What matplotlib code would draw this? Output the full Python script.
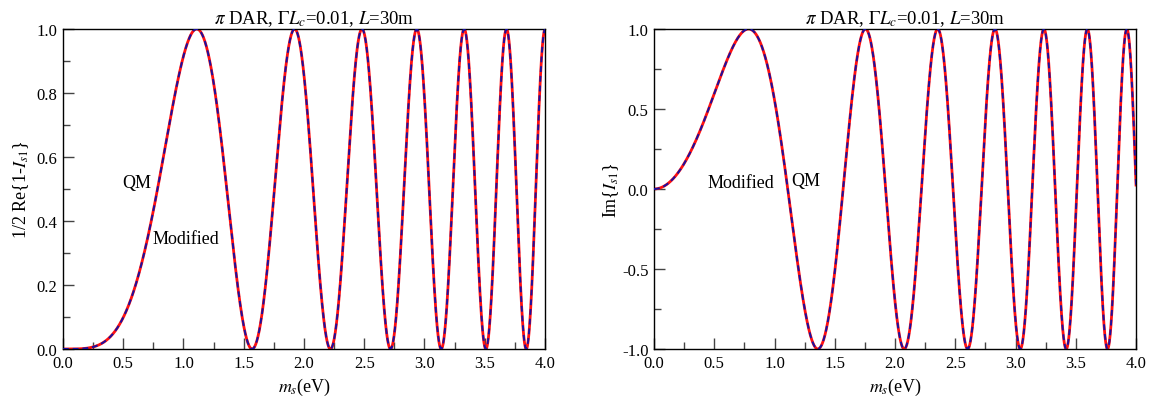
import numpy as np
import matplotlib
matplotlib.use('Agg')
import matplotlib.pyplot as plt
from matplotlib.ticker import MultipleLocator, FixedLocator, FormatStrFormatter

plt.rcParams['font.family'] = ['Liberation Serif', 'DejaVu Serif']
plt.rcParams['mathtext.fontset'] = 'stix'

# ------------------------------
# Physics setup (pi decay-at-rest source)
# ------------------------------
E_NU = 29.8        # neutrino energy, MeV
BASELINE = 30.0    # L, m
GAMMA_LC = 0.01    # Gamma * L_c
M_MIN, M_MAX = 0.0, 4.0

X_TICKS = [0.0, 0.5, 1.0, 1.5, 2.0, 2.5, 3.0, 3.5, 4.0]
LEFT_Y_TICKS = [0.0, 0.2, 0.4, 0.6, 0.8, 1.0]
RIGHT_Y_TICKS = [-1.0, -0.5, 0.0, 0.5, 1.0]

TITLE = r"$\pi$ DAR, $\Gamma L_c$=0.01, $L$=30m"

# ------------------------------
# Overlap integrals
# ------------------------------
m = np.linspace(M_MIN, M_MAX, 4000)
phase = 2 * 1.267 * m**2 * BASELINE / E_NU
I_qm = np.exp(1j * phase)
# modified version carries a tiny coherence damping from Gamma*L_c
I_mod = np.exp(1j * phase) * np.exp(-GAMMA_LC**2 * m**2)

fig = plt.figure(figsize=(11.51, 4.02), dpi=100)
ax1 = fig.add_axes([0.0547, 0.1294, 0.4188, 0.796])
ax2 = fig.add_axes([0.5682, 0.1294, 0.4188, 0.796])


def style_axis(ax, y_ticks, y_minor):
    ax.set_xlim(M_MIN, M_MAX)
    ax.xaxis.set_major_locator(FixedLocator(X_TICKS))
    ax.xaxis.set_minor_locator(MultipleLocator(0.25))
    ax.yaxis.set_major_locator(FixedLocator(y_ticks))
    ax.yaxis.set_minor_locator(MultipleLocator(y_minor))
    ax.xaxis.set_major_formatter(FormatStrFormatter('%.1f'))
    ax.yaxis.set_major_formatter(FormatStrFormatter('%.1f'))
    ax.tick_params(which='both', direction='in', top=False, right=False,
                   labelsize=12, color='#444444', pad=4)
    ax.tick_params(which='major', length=8, width=1)
    ax.tick_params(which='minor', length=5, width=1)
    for s in ax.spines.values():
        s.set_linewidth(1.0)
    ax.set_xlabel(r"$m_s$(eV)", fontsize=13, labelpad=4)
    ax.set_title(TITLE, fontsize=13.5, pad=4, loc='center', x=0.52)


# left panel: 1/2 Re{1 - I}
y_qm = 0.5 * np.real(1 - I_qm)
y_mod = 0.5 * np.real(1 - I_mod)
ax1.plot(m, y_qm, color='#ff1010', lw=2.0, zorder=2)
ax1.plot(m, y_mod, color='#1a10a0', lw=1.4, ls=(0, (3, 2)), zorder=3)
ax1.set_ylim(0.0, 1.0)
style_axis(ax1, LEFT_Y_TICKS, 0.1)
ax1.set_ylabel(r"1/2 Re{1-$I_{s1}$}", fontsize=13, labelpad=4)
ax1.text(0.73, 0.52, "QM", fontsize=13, ha='right', va='center')
ax1.text(0.74, 0.345, "Modified", fontsize=13, ha='left', va='center')

# right panel: Im{I}
ax2.plot(m, np.imag(I_qm), color='#ff1010', lw=2.0, zorder=2)
ax2.plot(m, np.imag(I_mod), color='#1a10a0', lw=1.4, ls=(0, (3, 2)), zorder=3)
ax2.set_ylim(-1.0, 1.0)
style_axis(ax2, RIGHT_Y_TICKS, 0.25)
ax2.set_ylabel(r"Im{$I_{s1}$}", fontsize=13, labelpad=1)
ax2.text(1.26, 0.05, "QM", fontsize=13, ha='center', va='center')
ax2.text(0.44, 0.04, "Modified", fontsize=13, ha='left', va='center')

fig.savefig("out.png", dpi=100)
